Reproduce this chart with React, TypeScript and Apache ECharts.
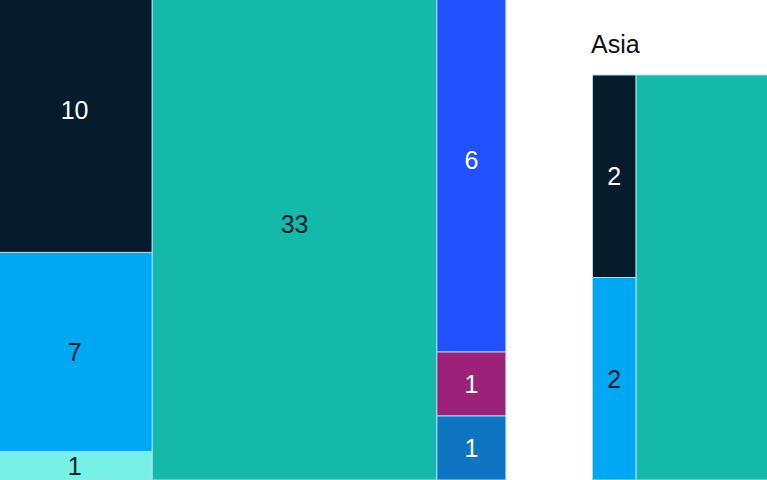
import React, { useEffect, useRef } from "react";
import * as echarts from "echarts";

// ---- Data ----
// Left region (its title is outside the visible area): three stacked columns
const leftColumnValues: number[][] = [[10, 7, 1], [33], [6, 1, 1]];
const leftColumnCats: string[][] = [["navy", "sky", "aqua"], ["teal"], ["blue", "plum", "ocean"]];
// Asia region: one stacked column plus a large teal block running out of view
const asiaTitle = "Asia";
const asiaColumnValues: number[][] = [[2, 2], [40]];
const asiaColumnCats: string[][] = [["navy", "sky"], ["teal"]];

const catColors: Record<string, string> = {
  navy: "#061c2d",
  sky: "#00a8f3",
  aqua: "#77f0e6",
  teal: "#15b9aa",
  blue: "#2251ff",
  plum: "#9c2178",
  ocean: "#0f74c2",
};
const darkText = new Set(["sky", "aqua", "teal"]);

// ---- Layout (area proportional to value, slice-and-dice) ----
const UNIT_AREA = 4416; // px^2 per unit
type Frame = { left: number; top: number; bottom: number };
const leftFrame: Frame = { left: -3, top: -32, bottom: 480 };
const asiaFrame: Frame = { left: 592.5, top: 75, bottom: 480 };

function layout(cols: number[][], cats: string[][], f: Frame) {
  const h = f.bottom - f.top;
  const cells: any[] = [];
  let x = f.left;
  cols.forEach((col, ci) => {
    const total = col.reduce((a, b) => a + b, 0);
    const w = (total * UNIT_AREA) / h;
    let y = f.top;
    col.forEach((v, ri) => {
      const ch = (h * v) / total;
      cells.push({ value: [x, x + w, y, y + ch, v], cat: cats[ci][ri] });
      y += ch;
    });
    x += w;
  });
  return cells;
}

export default function App() {
  const ref = useRef<HTMLDivElement>(null);
  useEffect(() => {
    if (!ref.current) return;
    const chart = echarts.init(ref.current, undefined, { renderer: "svg" });
    const cells = [
      ...layout(leftColumnValues, leftColumnCats, leftFrame),
      ...layout(asiaColumnValues, asiaColumnCats, asiaFrame),
    ];
    chart.setOption({
      animation: false,
      grid: { left: 0, right: 0, top: 0, bottom: 0 },
      xAxis: { type: "value", min: 0, max: 767, show: false },
      yAxis: { type: "value", min: 0, max: 480, inverse: true, show: false },
      graphic: [
        {
          type: "text",
          x: 591,
          y: 44,
          style: {
            text: asiaTitle,
            fontSize: 25,
            fontFamily: "Liberation Sans",
            fill: "#111111",
            align: "left",
            verticalAlign: "middle",
          },
        },
      ],
      series: [
        {
          type: "custom",
          clip: false,
          data: cells.map((c) => ({ value: c.value, cat: c.cat })),
          renderItem: (params: any, api: any) => {
            const c = cells[params.dataIndex];
            const p0 = api.coord([api.value(0), api.value(2)]);
            const p1 = api.coord([api.value(1), api.value(3)]);
            const cx = (p0[0] + p1[0]) / 2;
            const cy = (p0[1] + p1[1]) / 2;
            const children: any[] = [
              {
                type: "rect",
                shape: { x: p0[0], y: p0[1], width: p1[0] - p0[0], height: p1[1] - p0[1] },
                style: { fill: catColors[c.cat], stroke: "#a9ddf0", lineWidth: 1 },
              },
            ];
            if (cx > 0 && cx < 767 && cy > 0 && cy < 480) {
              children.push({
                type: "text",
                x: cx,
                y: cy,
                style: {
                  text: String(api.value(4)),
                  fontSize: 25,
                  fontFamily: "Liberation Sans",
                  fill: darkText.has(c.cat) ? "#0a1f2e" : "#ffffff",
                  align: "center",
                  verticalAlign: "middle",
                },
              });
            }
            return { type: "group", children };
          },
        },
      ],
    });
    return () => chart.dispose();
  }, []);
  return (
    <div
      ref={ref}
      style={{ position: "fixed", left: 0, top: 0, width: 767, height: 480, background: "#ffffff" }}
    />
  );
}
